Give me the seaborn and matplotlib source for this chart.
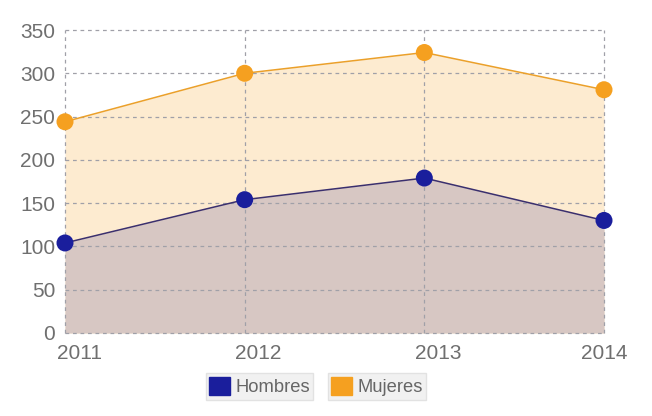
import matplotlib
matplotlib.use("Agg")
import matplotlib.pyplot as plt
import matplotlib.transforms as mtransforms
from matplotlib.patches import Patch
import seaborn as sns
import pandas as pd

years = [2011, 2012, 2013, 2014]
hombres = [104, 154, 179, 130]
mujeres = [244, 300, 324, 281]
y_ticks = [0, 50, 100, 150, 200, 250, 300, 350]

sns.set_theme(style="white")
plt.rcParams['font.family'] = ['Liberation Sans', 'DejaVu Sans']

df = pd.DataFrame({"year": years * 2,
                   "value": hombres + mujeres,
                   "serie": ["Hombres"] * 4 + ["Mujeres"] * 4})

fig = plt.figure(figsize=(6.52, 4.16), dpi=100)
ax = fig.add_axes([65/652, 1-333/416, (604-65)/652, (333-30)/416])

c_h = "#1a1e9c"
c_h_line = "#3a2f6e"
c_m = "#f5a020"

ax.fill_between(years, mujeres, 0, color="#fdebd0", zorder=1, lw=0)
ax.fill_between(years, hombres, 0, color="#d7c7c3", zorder=1.5, lw=0)

sns.lineplot(data=df[df.serie == "Mujeres"], x="year", y="value", color="#eba02a",
             lw=1.1, ax=ax, zorder=4, legend=False)
sns.lineplot(data=df[df.serie == "Hombres"], x="year", y="value", color=c_h_line,
             lw=1.1, ax=ax, zorder=4, legend=False)
sns.scatterplot(data=df, x="year", y="value", hue="serie",
                palette={"Hombres": c_h, "Mujeres": c_m}, s=150,
                edgecolor="none", ax=ax, zorder=5, legend=False, clip_on=False)

ax.set_xlim(2011, 2014)
ax.set_ylim(0, 350)
ax.set_xticks(years)
ax.set_yticks(y_ticks)
ax.set_xlabel("")
ax.set_ylabel("")
for s in ax.spines.values():
    s.set_visible(False)
ax.grid(True, color="#a0a0a8", linestyle=(0, (3, 3)), lw=0.9, zorder=3)
ax.set_axisbelow(False)
for ln in ax.get_xgridlines() + ax.get_ygridlines():
    ln.set_zorder(3)
    ln.set_clip_on(False)

ax.tick_params(axis="both", length=0, labelsize=15, labelcolor="#6f6f6f")
ax.tick_params(axis="y", pad=7)
ax.tick_params(axis="x", pad=8)
for i, lab in enumerate(ax.get_xticklabels()):
    dx = 14 if i < 3 else 0
    lab.set_transform(lab.get_transform() +
                      mtransforms.ScaledTranslation(dx/100, 0, fig.dpi_scale_trans))

leg_kw = dict(loc="center", frameon=True, fontsize=13.2, labelcolor="#666666",
              handlelength=1.1, handleheight=1.1, handletextpad=0.3,
              borderpad=0.2, fancybox=False, edgecolor="#e2e2e2",
              facecolor="#f1f1f1", framealpha=1, borderaxespad=0)
l1 = fig.legend(handles=[Patch(facecolor=c_h, edgecolor=c_h)], labels=["Hombres"],
                bbox_to_anchor=(259.5/652, 1-386.5/416), **leg_kw)
l2 = fig.legend(handles=[Patch(facecolor=c_m, edgecolor=c_m)], labels=["Mujeres"],
                bbox_to_anchor=(377/652, 1-386.5/416), **leg_kw)

fig.savefig("out.png", dpi=100)
